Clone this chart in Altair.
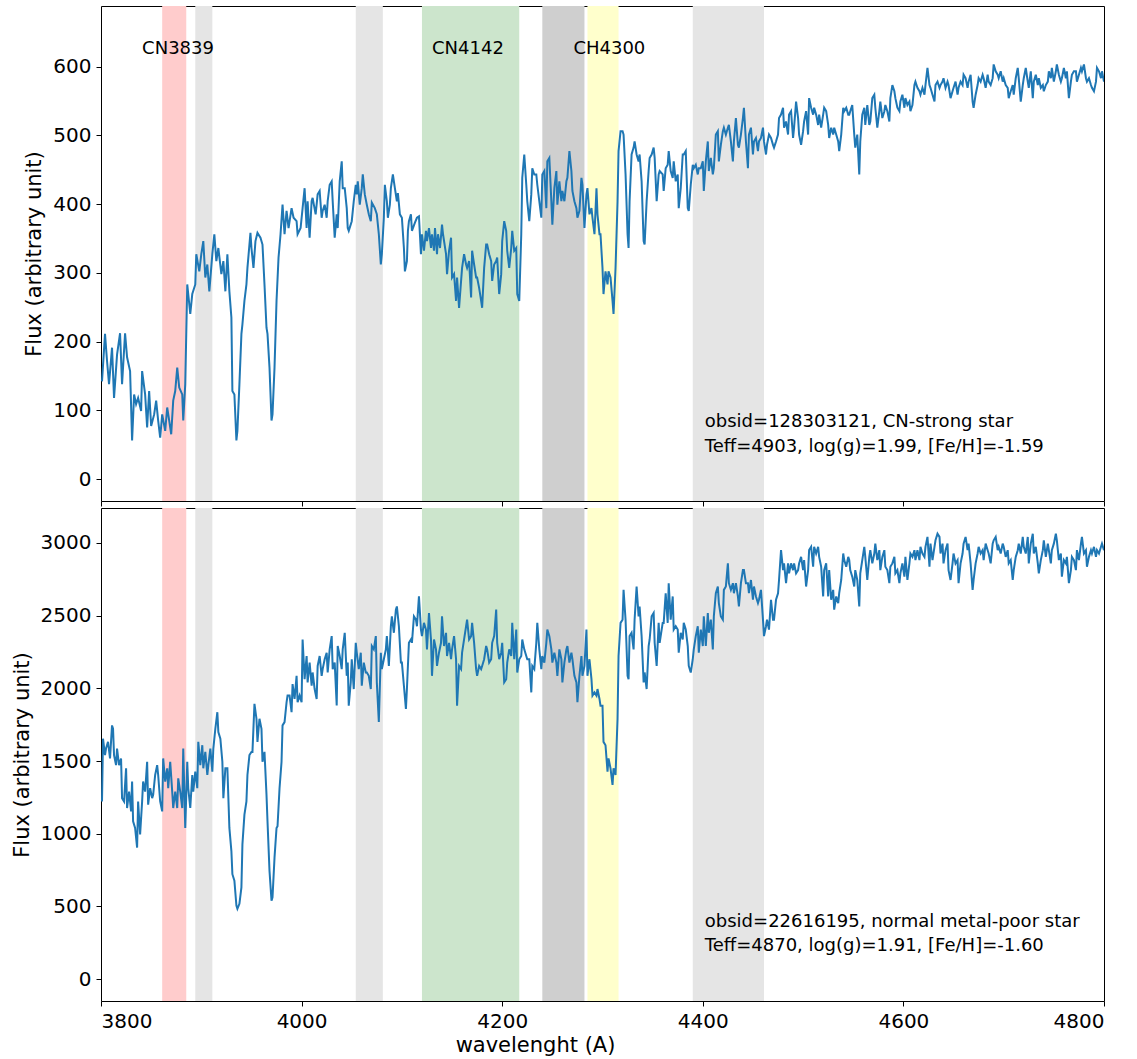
import altair as alt
import pandas as pd

# ---------------- data ----------------
# top spectrum (obsid=128303121), wavelength in A, flux in arbitrary units
top_wave_a = [3801,3804,3806,3808,3811,3813,3816,3819,3821,3824,3826,3829,3831,3833,3835,3837,3840,3841,3844,3846,
              3848,3850,3853,3855,3857,3859,3861,3864,3866,3868,3870,3872,3874,3876,3878,3881,3882,3884,3886,3889,
              3891,3894,3895,3898,3900,3902,3904,3906,3908,3911,3913,3915,3917,3920,3922,3924,3926,3928,3930,3931,
              3933,3935,3936,3938,3940,3941,3943,3945,3946,3949,3950,3952,3954,3956,3959,3961,3963,3965,3966,3968,
              3970,3971,3973,3975,3977,3979,3981,3983,3985,3987,3990,3992,3995,3996,3999,4001,4003,4005,4006,4008,
              4010,4011,4014,4016,4018,4020,4021,4023,4025,4026,4028,4030,4031,4033,4035,4036,4038,4040,4041,4043,
              4045,4046]
top_flux_a = [142,211,172,138,191,118,181,212,138,212,177,157,56,123,109,118,99,157,123,75,
              128,77,94,114,85,60,94,70,104,85,65,114,128,162,133,123,85,138,283,240,
              269,283,327,302,327,346,293,312,273,327,356,317,336,298,317,273,327,273,235,128,
              123,56,70,138,211,225,259,283,307,358,336,307,346,358,351,341,283,220,211,162,
              85,94,162,259,322,356,399,356,390,365,394,380,375,356,365,394,423,365,404,351,
              404,409,385,414,419,380,390,399,380,404,428,433,404,351,385,365,433,462,423,423,
              394,365]

top_wave_b = [4047,4050,4052,4054,4055,4056,4058,4060,4061,4063,4065,4067,4069,4070,4073,4075,4077,4079,4080,4082,
              4083,4085,4086,4088,4089,4091,4093,4095,4096,4098,4100,4102,4103,4105,4106,4107,4109,4110,4113,4115,
              4117,4119,4120,4122,4124,4125,4127,4129,4130,4132,4133,4135,4136,4138,4140,4141,4144,4145,4147,4149,
              4150,4152,4154,4155,4157,4159,4160,4162,4164,4165,4167,4169,4170,4172,4174,4175,4177,4179,4180,4182,
              4184,4185,4187,4189,4190,4192,4194,4195,4197,4199,4200,4202,4204,4205,4207,4209,4210,4212,4214,4215,
              4217,4219,4220,4222,4224,4225,4227,4229,4230,4232,4234,4235,4237,4239,4240,4242,4244,4245,4247,4249,
              4250,4252,4254,4255,4257,4259,4260,4262,4264,4265,4267,4269,4270,4272,4274,4275,4277,4279,4280,4282,
              4284,4285,4287,4289,4290,4292,4294,4295,4297]
top_flux_b = [361,375,404,428,414,433,399,423,443,414,399,385,375,402,394,385,356,312,327,380,
              428,404,380,399,423,443,423,404,416,385,380,336,302,317,361,375,385,361,373,380,
              382,327,356,332,361,346,365,336,356,332,365,327,356,336,370,356,327,298,332,351,
              293,298,259,293,249,288,307,327,312,307,317,264,332,312,293,293,278,259,249,307,
              341,341,327,317,288,312,317,322,269,298,346,375,361,332,307,336,361,332,336,269,
              259,356,438,472,428,404,375,414,452,443,443,428,404,380,443,448,394,462,467,404,
              370,423,448,399,433,404,419,404,433,438,477,448,419,404,394,380,390,438,428,365,
              414,423,385,394,380,356,423,385,356]

# shared wavelength grids for 4298-4545 and 4546-4800
wave_c = [4298,4300,4301,4303,4305,4306,4308,4310,4311,4313,4315,4316,4318,4320,4321,4323,4325,4326,4327,4329,
          4331,4332,4334,4336,4337,4339,4341,4342,4344,4346,4347,4349,4351,4352,4354,4356,4357,4360,4361,4363,
          4365,4366,4368,4370,4371,4373,4375,4376,4378,4380,4381,4383,4385,4386,4388,4390,4391,4393,4395,4396,
          4398,4400,4401,4403,4405,4406,4408,4410,4411,4413,4415,4416,4418,4420,4421,4423,4425,4426,4428,4430,
          4431,4433,4435,4436,4438,4440,4441,4443,4445,4446,4448,4450,4451,4453,4455,4456,4458,4460,4461,4463,
          4464,4466,4468,4470,4471,4473,4475,4476,4478,4480,4481,4483,4485,4486,4488,4490,4491,4493,4495,4496,
          4498,4500,4501,4503,4505,4506,4508,4510,4511,4513,4515,4516,4518,4520,4521,4523,4525,4526,4528,4530,
          4531,4533,4535,4536,4538,4540,4541,4543,4545]
wave_d = [4546,4547,4549,4551,4552,4554,4556,4557,4559,4561,4562,4564,4566,4567,4569,4571,4572,4574,4576,4577,
          4579,4581,4582,4584,4586,4587,4589,4591,4592,4594,4596,4597,4599,4601,4602,4604,4606,4607,4609,4611,
          4612,4614,4616,4617,4619,4621,4622,4624,4626,4627,4629,4631,4632,4634,4636,4637,4639,4640,4642,4644,
          4645,4647,4649,4650,4652,4654,4655,4657,4659,4660,4662,4664,4665,4667,4669,4670,4672,4674,4675,4677,
          4679,4680,4682,4684,4685,4687,4689,4690,4692,4694,4695,4697,4699,4700,4702,4704,4705,4707,4709,4710,
          4712,4714,4715,4717,4719,4720,4722,4724,4725,4727,4729,4730,4732,4734,4735,4737,4739,4740,4742,4744,
          4745,4747,4748,4750,4752,4753,4755,4757,4758,4760,4762,4763,4765,4767,4768,4770,4772,4773,4775,4777,
          4778,4780,4782,4783,4785,4787,4788,4790,4792,4793,4795,4797,4798,4800]

top_flux_c = [356,307,269,302,283,302,293,259,240,307,404,477,506,506,501,443,356,336,404,472,
              482,491,472,462,472,433,346,341,404,448,467,472,482,467,404,443,448,443,419,452,
              457,477,448,438,462,433,443,394,423,472,472,477,394,390,428,457,452,457,443,452,
              452,462,419,462,491,448,467,443,452,501,506,462,486,506,511,501,511,515,491,462,
              491,525,486,482,501,525,540,491,452,501,511,472,491,496,477,491,496,511,491,472,
              486,501,496,486,482,491,501,525,530,540,511,520,501,530,535,496,511,549,525,501,
              486,506,520,535,501,554,540,530,540,530,515,530,511,530,540,535,515,496,511,501,
              511,501,491,477,501,540,535,540,530]
top_flux_d = [530,535,544,501,482,501,443,491,530,540,515,544,515,520,554,559,540,511,535,549,
              525,535,544,535,520,554,573,564,554,540,535,549,559,540,554,544,549,535,544,573,
              578,569,564,559,569,559,573,598,573,569,559,549,573,578,569,573,578,583,569,578,
              573,554,564,569,578,559,569,578,573,588,583,569,578,588,549,540,559,573,583,578,
              588,583,569,588,578,573,583,603,593,588,583,593,578,583,573,569,554,564,573,559,
              583,598,583,549,573,583,598,578,569,593,554,578,588,573,583,569,573,564,573,578,
              593,583,598,578,593,603,588,578,583,598,583,593,554,578,588,593,593,578,588,598,
              593,603,583,578,583,573,569,564,578,598,593,583,593,578]

# bottom spectrum (obsid=22616195)
bot_wave_a = [3801,3802,3804,3805,3807,3809,3811,3812,3813,3815,3816,3818,3820,3821,3823,3825,3826,3828,3830,3831,
              3832,3834,3836,3837,3839,3841,3842,3844,3846,3847,3849,3851,3852,3854,3856,3857,3859,3861,3862,3864,
              3866,3867,3869,3871,3872,3874,3876,3877,3879,3881,3882,3884,3886,3887,3889,3891,3892,3894,3896,3897,
              3899,3901,3902,3904,3906,3907,3909,3911,3912,3914,3916,3917,3919,3921,3922,3924,3926,3928,3930,3931,
              3933,3935,3936,3938,3940,3941,3943,3945,3946,3948,3950,3951,3953,3955,3956,3958,3960,3961,3963,3965,
              3966,3968,3970,3971,3973,3975,3976,3978,3980,3981,3983,3985,3986,3988,3990,3991,3993,3995,3996,3998,
              4000,4001,4003,4005,4006,4008,4010,4011,4013,4015,4016,4018,4020,4021,4023,4025,4026,4028,4030,4031,
              4033,4035,4036,4038,4040,4041,4043,4045,4046]
bot_flux_a = [1222,1654,1541,1586,1632,1518,1745,1722,1541,1472,1586,1472,1518,1245,1222,1450,1177,1290,1154,1359,
              1086,1040,904,1222,995,1222,1359,1290,1495,1200,1313,1245,1268,1404,1472,1404,1222,1154,1518,1359,
              1450,1313,1495,1290,1177,1290,1177,1381,1290,1177,1586,1040,1495,1313,1177,1404,1290,1427,1313,1632,
              1472,1609,1450,1563,1404,1472,1586,1427,1586,1722,1836,1700,1654,1495,1245,1450,1450,1040,881,722,
              677,506,484,518,631,927,1131,1222,1404,1541,1563,1563,1893,1791,1632,1791,1722,1495,1563,1268,
              1086,745,540,563,836,1040,1052,1313,1495,1745,1768,1904,1950,1950,1836,2029,1927,2086,1904,1950,
              1904,2336,2063,2222,2041,2177,2018,2109,1995,1927,2154,2222,2086,2132,2200,2245,2109,2268,2359,2132,
              2177,1882,2291,2222,2132,2268,2382,2086,2177]

bot_wave_b = [4047,4049,4050,4052,4054,4055,4057,4059,4060,4062,4064,4065,4067,4069,4070,4072,4074,4075,4077,4079,
              4080,4082,4084,4085,4087,4089,4090,4092,4094,4095,4097,4099,4100,4102,4104,4105,4107,4109,4110,4112,
              4114,4115,4117,4119,4120,4122,4124,4125,4127,4129,4130,4132,4134,4135,4137,4139,4140,4142,4144,4145,
              4147,4149,4150,4152,4154,4155,4157,4159,4160,4162,4164,4165,4167,4169,4170,4172,4174,4175,4177,4179,
              4180,4182,4184,4185,4187,4189,4190,4192,4194,4195,4197,4199,4200,4202,4204,4205,4207,4209,4210,4212,
              4214,4215,4217,4219,4220,4222,4224,4225,4227,4229,4230,4232,4234,4235,4237,4239,4240,4242,4244,4245,
              4247,4249,4250,4252,4254,4255,4257,4259,4260,4262,4264,4265,4267,4269,4270,4272,4274,4275,4277,4279,
              4280,4282,4284,4285,4287,4289,4290,4292,4294,4295,4297]
bot_flux_b = [1881,2041,2200,1995,2313,2245,2132,2245,2018,2177,2109,2109,2086,1995,2291,2268,2359,2041,1768,2245,
              2132,2200,2268,2359,2154,2427,2495,2382,2541,2563,2427,2177,2177,2018,1859,1995,2313,2336,2313,2495,
              2472,2427,2632,2404,2359,2450,2404,2268,2518,2336,2086,2336,2268,2154,2245,2313,2495,2291,2382,2222,
              2313,2200,2268,2359,2200,1881,2154,2132,2245,2336,2427,2472,2336,2359,2450,2313,2132,2086,2154,2132,
              2154,2200,2291,2268,2177,2200,2313,2359,2541,2313,2200,2245,2313,2041,2063,2177,2268,2222,2450,2200,
              2404,2109,2200,2222,2336,2268,2222,2200,2200,1972,2154,2132,2313,2450,2268,2132,2222,2177,2313,2404,
              2359,2268,2177,2245,2177,2086,2268,2200,2041,2177,2268,2291,2177,2245,2200,2086,2041,1904,2086,2222,
              2086,2154,2404,2086,2200,2063,1950,1972,1950,1995,1927]

bot_flux_c = [1881,1881,1632,1609,1427,1518,1450,1336,1450,1404,1791,2222,2450,2472,2677,2472,2086,2063,2359,2382,
              2268,2472,2700,2495,2563,2359,2041,2109,1995,2291,2336,2495,2518,2313,2154,2450,2313,2450,2450,2654,
              2450,2723,2472,2632,2404,2427,2404,2245,2382,2336,2450,2404,2291,2154,2109,2200,2268,2359,2427,2245,
              2404,2291,2495,2291,2518,2382,2472,2268,2495,2654,2700,2586,2495,2472,2677,2700,2859,2723,2677,2723,
              2654,2723,2632,2563,2723,2813,2813,2723,2723,2654,2745,2609,2700,2632,2586,2609,2677,2472,2359,2427,
              2472,2404,2609,2472,2472,2609,2654,2745,2950,2813,2859,2723,2859,2791,2859,2813,2859,2791,2813,2859,
              2904,2813,2882,2700,2813,2950,2973,2836,2973,2927,2973,2904,2836,2632,2813,2859,2632,2813,2609,2677,
              2541,2632,2586,2654,2745,2927,2882,2836,2904]
bot_flux_d = [2882,2813,2768,2700,2813,2745,2563,2791,2882,2973,2904,2745,2904,2950,2859,2927,2995,2882,2950,2813,
              2904,2950,2836,2813,2723,2836,2859,2904,2791,2813,2723,2791,2859,2768,2904,2745,2859,2927,2904,2950,
              2882,2950,2882,2973,2927,2904,2973,3041,2836,2995,2882,2973,3018,3063,3041,2927,2995,2859,2950,2995,
              2813,2745,2859,2927,2859,2882,2723,2859,2927,2995,3041,2950,2995,2859,2677,2745,2859,2927,2973,2927,
              2950,2882,2995,2950,2927,2859,2995,3018,3041,2950,2973,2927,2995,2973,2904,2950,2859,2882,2745,2813,
              2904,2950,2995,2927,3041,2973,2927,3041,2859,2995,3063,2927,2973,2859,2791,2882,2950,3018,2904,2995,
              2950,2859,2950,2995,3063,3018,2882,2927,2768,2882,2859,2904,2723,2813,2904,2882,2813,2950,2882,2995,
              3041,2927,2950,2836,2904,2950,2927,2973,2904,2950,2927,2973,2995,2950]

# shaded index bands
band_start = [3861, 3894, 4054, 4120, 4240, 4285, 4390]
band_end = [3885, 3911, 4081, 4217, 4282, 4316, 4461]
band_color = ["#ffcccc", "#e5e5e5", "#e5e5e5", "#cce5cc", "#cfcfcf", "#ffffcc", "#e5e5e5"]

# band labels (top panel)
band_label = ["CN3839", "CN4142", "CH4300"]
band_label_wave = [3841, 4130, 4271]
band_label_flux = [625, 625, 625]

# star info labels
top_info = ["obsid=128303121, CN-strong star", "Teff=4903, log(g)=1.99, [Fe/H]=-1.59"]
top_info_flux = [83, 47]
bot_info = ["obsid=22616195, normal metal-poor star", "Teff=4870, log(g)=1.91, [Fe/H]=-1.60"]
bot_info_flux = [392, 227]
info_wave = 4402

x_ticks = [3800, 4000, 4200, 4400, 4600, 4800]
top_yticks = [0, 100, 200, 300, 400, 500, 600]
bot_yticks = [0, 500, 1000, 1500, 2000, 2500, 3000]
top_ydomain = [-32, 688]
bot_ydomain = [-150, 3240]

# ---------------- chart ----------------
W = 1003
H_TOP = 495
H_BOT = 493
FONT = "DejaVu Sans"
BLUE = "#1f77b4"

top_df = pd.DataFrame({"wave": top_wave_a + top_wave_b + wave_c + wave_d,
                       "flux": top_flux_a + top_flux_b + top_flux_c + top_flux_d})
bot_df = pd.DataFrame({"wave": bot_wave_a + bot_wave_b + wave_c + wave_d,
                       "flux": bot_flux_a + bot_flux_b + bot_flux_c + bot_flux_d})
bands_df = pd.DataFrame({"wave": band_start, "wave_end": band_end, "color": band_color})
label_df = pd.DataFrame({"wave": band_label_wave, "flux": band_label_flux, "label": band_label})
top_info_df = pd.DataFrame({"wave": [info_wave] * 2, "flux": top_info_flux, "label": top_info})
bot_info_df = pd.DataFrame({"wave": [info_wave] * 2, "flux": bot_info_flux, "label": bot_info})

AXIS_STYLE = dict(
    labelFont=FONT, titleFont=FONT, labelFontSize=20, titleFontSize=21,
    labelColor="black", titleColor="black", titleFontWeight="normal",
    tickColor="black", tickSize=5, tickWidth=1,
    domain=False, grid=False,
)


def panel(df, ydomain, yticks, height, texts, bottom):
    xscale = alt.Scale(domain=[3800, 4800], nice=False, zero=False)
    yscale = alt.Scale(domain=ydomain, nice=False, zero=False)
    if bottom:
        xaxis = alt.Axis(values=x_ticks, format="d", title="wavelenght (A)", labelPadding=5,
                         titlePadding=3, titleX=434, titleAlign="center", **AXIS_STYLE)
    else:
        xaxis = alt.Axis(values=x_ticks, labels=False, title="", labelPadding=0,
                         minExtent=0, **AXIS_STYLE)
    yaxis = alt.Axis(values=yticks, format="d", title="Flux (arbitrary unit)",
                     labelPadding=5, titlePadding=8, **AXIS_STYLE)
    xenc = alt.X("wave:Q", scale=xscale, axis=xaxis)
    yenc = alt.Y("flux:Q", scale=yscale, axis=yaxis)

    bands = alt.Chart(bands_df).mark_rect().encode(
        x=xenc, x2="wave_end:Q",
        y=alt.value(0), y2=alt.value(height),
        color=alt.Color("color:N", scale=None),
    )
    line = alt.Chart(df).mark_line(color=BLUE, strokeWidth=2, clip=True).encode(
        x=xenc, y=yenc, order="wave:Q"
    )
    layers = [bands, line]
    for tdf in texts:
        layers.append(
            alt.Chart(tdf).mark_text(align="left", baseline="middle", fontSize=18,
                                     font=FONT, color="black").encode(
                x=xenc, y=yenc, text="label:N")
        )
    return alt.layer(*layers).properties(width=W, height=height)


top = panel(top_df, top_ydomain, top_yticks, H_TOP, [label_df, top_info_df], False)
bot = panel(bot_df, bot_ydomain, bot_yticks, H_BOT, [bot_info_df], True)

chart = alt.vconcat(top, bot, spacing=0).properties(
    padding={"left": 10, "top": 5, "right": 5, "bottom": 0},
    background="white",
).configure_view(
    stroke="black", strokeWidth=1
)

chart.save("out.html", embed_options={"renderer": "svg", "actions": False})
